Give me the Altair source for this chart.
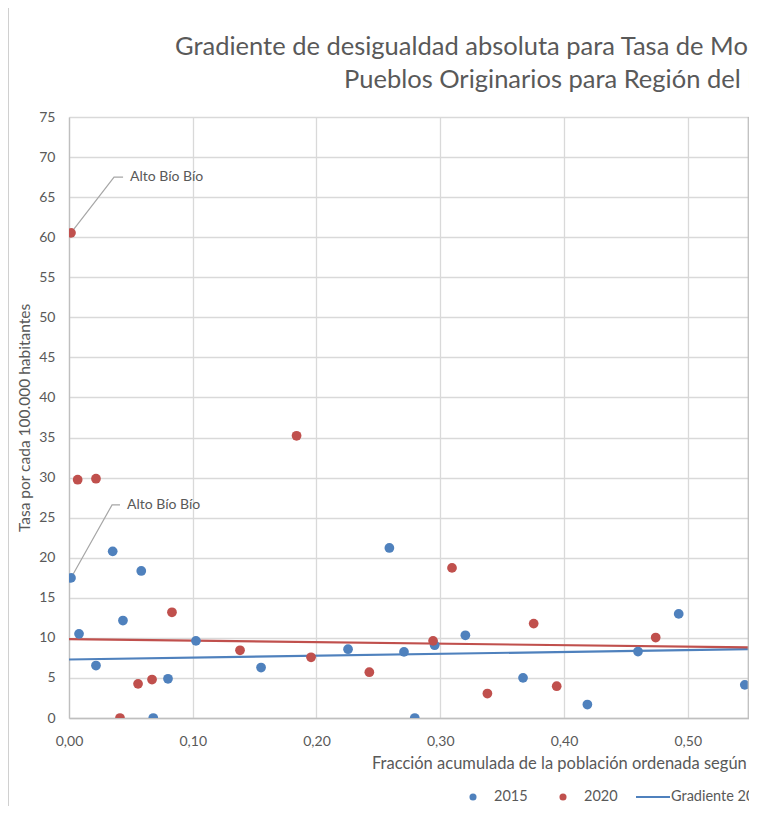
import altair as alt
import pandas as pd

FONT = "Lato"
GRAY = "#595959"
BLUE = "#4f81bd"
RED = "#c0504d"

# --- data ---
x2015 = [0.0016, 0.0081, 0.0218, 0.0353, 0.0436, 0.0584, 0.0681, 0.0800, 0.1026, 0.1552,
         0.2255, 0.2589, 0.2707, 0.2794, 0.2955, 0.3203, 0.3669, 0.4189, 0.4598, 0.4927, 0.5461]
y2015 = [17.48, 10.50, 6.55, 20.80, 12.16, 18.35, 0.0, 4.89, 9.63, 6.30,
         8.58, 21.22, 8.25, 0.0, 9.08, 10.32, 5.01, 1.68, 8.29, 12.99, 4.14]
x2020 = [0.0016, 0.0070, 0.0218, 0.0412, 0.0558, 0.0671, 0.0832, 0.1382, 0.1839, 0.1956,
         0.2427, 0.2942, 0.3095, 0.3381, 0.3755, 0.3941, 0.4741, 0.5530]
y2020 = [60.54, 29.74, 29.86, 0.0, 4.26, 4.80, 13.19, 8.45, 35.22, 7.58,
         5.71, 9.63, 18.73, 3.05, 11.78, 3.97, 10.04, 2.93]

trend_x = [0.0, 0.551]
trend2015 = [7.30, 8.60]
trend2020 = [9.85, 8.80]

x_ticks = [0.0, 0.1, 0.2, 0.3, 0.4, 0.5]
y_ticks = [0, 5, 10, 15, 20, 25, 30, 35, 40, 45, 50, 55, 60, 65, 70, 75]

ann_text = ["Alto Bío Bío", "Alto Bío Bío"]
ann_px = [0.0016, 0.0016]
ann_py = [60.54, 17.48]
ann_elbow_x = [0.0364, 0.0348]
ann_elbow_y = [67.5, 26.6]
ann_end_x = [0.0437, 0.0412]
ann_label_x = [0.0493, 0.0469]

title_1 = "Gradiente de desigualdad absoluta para Tasa de Mortalidad"
title_2 = "Pueblos Originarios para Región del Biobío"
x_title = "Fracción acumulada de la población ordenada según"
y_title = "Tasa por cada 100.000 habitantes"
legend_labels = ["2015", "2020", "Gradiente 2015"]

# --- tables ---
pts = pd.DataFrame({
    "x": x2015 + x2020,
    "y": y2015 + y2020,
    "serie": ["2015"] * len(x2015) + ["2020"] * len(x2020),
})
trend = pd.DataFrame({
    "x": trend_x + trend_x,
    "y": trend2015 + trend2020,
    "serie": ["2015"] * 2 + ["2020"] * 2,
})
leader_rows = []
for i in range(len(ann_text)):
    leader_rows += [
        {"id": i, "o": 0, "x": ann_px[i], "y": ann_py[i]},
        {"id": i, "o": 1, "x": ann_elbow_x[i], "y": ann_elbow_y[i]},
        {"id": i, "o": 2, "x": ann_end_x[i], "y": ann_elbow_y[i]},
    ]
leaders = pd.DataFrame(leader_rows)
labels = pd.DataFrame({"x": ann_label_x, "y": ann_elbow_y, "t": ann_text})

W, H = 680, 601
xscale = alt.Scale(domain=[0, 0.5495], nice=False, zero=False)
yscale = alt.Scale(domain=[0, 75], nice=False)

xaxis = alt.Axis(values=x_ticks, labelExpr="replace(format(datum.value, '.2f'), '.', ',')",
                 grid=True, gridColor="#d9d9d9", gridWidth=1.3, domainColor="#bfbfbf",
                 domainWidth=1.3, ticks=False, labelPadding=16, labelFont=FONT,
                 labelFontSize=14, labelColor=GRAY, labelFlush=False, title=None)
yaxis = alt.Axis(values=y_ticks, grid=True, gridColor="#d9d9d9", gridWidth=1.3,
                 domainColor="#bfbfbf", domainWidth=1.3, ticks=False, labelPadding=14,
                 labelFont=FONT, labelFontSize=14, labelColor=GRAY, labelFlush=False,
                 title=y_title, titleFont=FONT, titleFontSize=15.5, titleFontWeight="normal",
                 titleColor=GRAY, titleX=-45, titleY=300.5, titleAngle=270,
                 titleAlign="center", titleBaseline="middle")

color = alt.Color("serie:N", scale=alt.Scale(domain=["2015", "2020"], range=[BLUE, RED]),
                  legend=None)

X = alt.X("x:Q", scale=xscale, axis=xaxis)
Y = alt.Y("y:Q", scale=yscale, axis=yaxis)

trend_layer = alt.Chart(trend).mark_line(strokeWidth=2.2, clip=True).encode(
    x=X, y=Y, color=color, detail="serie:N")

leader_layer = alt.Chart(leaders).mark_line(color="#a6a6a6", strokeWidth=1.2, clip=True).encode(
    x=X, y=Y, detail="id:N", order="o:Q")

points_layer = alt.Chart(pts).mark_circle(size=95, opacity=1, clip=True).encode(
    x=X, y=Y, color=color)

label_layer = alt.Chart(labels).mark_text(align="left", baseline="middle", font=FONT,
                                          fontSize=14, color=GRAY).encode(x=X, y=Y, text="t:N")

one = pd.DataFrame({"k": [0]})


def txt(s, x, y, size, color=GRAY):
    return alt.Chart(pd.DataFrame({"t": [s]})).mark_text(
        align="left", baseline="middle", font=FONT, fontSize=size, color=color
    ).encode(x=alt.value(x), y=alt.value(y), text="t:N")


title1_layer = txt(title_1, 106, -70, 25.5)
title2_layer = txt(title_2, 275, -37, 25.5)
xtitle_layer = txt(x_title, 303, 647, 16.5)

leg_dot1 = alt.Chart(one).mark_circle(size=50, opacity=1, color=BLUE).encode(
    x=alt.value(404), y=alt.value(680))
leg_dot2 = alt.Chart(one).mark_circle(size=50, opacity=1, color=RED).encode(
    x=alt.value(494), y=alt.value(680))
leg_line = alt.Chart(one).mark_rule(color=BLUE, strokeWidth=2.2).encode(
    x=alt.value(567), x2=alt.value(601), y=alt.value(680))
leg_t1 = txt(legend_labels[0], 425, 680, 14.5)
leg_t2 = txt(legend_labels[1], 515, 680, 14.5)
leg_t3 = txt(legend_labels[2], 602, 680, 14.5)

right_edge = alt.Chart(one).mark_rule(color="#bfbfbf", strokeWidth=1.3).encode(
    x=alt.value(W - 0.7), y=alt.value(0), y2=alt.value(H))
frame_left = alt.Chart(one).mark_rule(color="#d0d0d0", strokeWidth=1).encode(
    x=alt.value(-60.5), y=alt.value(-110), y2=alt.value(700))

chart = alt.layer(
    trend_layer, leader_layer, points_layer, label_layer,
    title1_layer, title2_layer, xtitle_layer,
    leg_dot1, leg_dot2, leg_line, leg_t1, leg_t2, leg_t3,
    right_edge, frame_left,
).properties(
    width=W, height=H,
    autosize=alt.AutoSizeParams(type="none"),
    padding={"left": 61, "top": 109, "right": 0, "bottom": 88},
    background="white",
).configure_view(stroke=None)

chart.save("out.html", embed_options={"renderer": "svg", "actions": False})
